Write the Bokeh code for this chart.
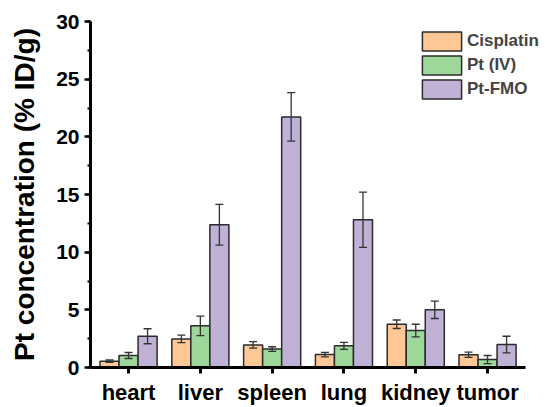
from bokeh.plotting import figure
from bokeh.models import (ColumnDataSource, Whisker, Range1d, FixedTicker,
                          SingleIntervalTicker, Legend, LegendItem, TeeHead)
from bokeh.embed import file_html
from bokeh.resources import INLINE

organs = ["heart", "liver", "spleen", "lung", "kidney", "tumor"]
series = ["Cisplatin", "Pt (IV)", "Pt-FMO"]
cisplatin = [0.55, 2.48, 1.96, 1.12, 3.75, 1.10]
cisplatin_err = [0.10, 0.32, 0.28, 0.20, 0.37, 0.23]
pt_iv = [1.04, 3.61, 1.60, 1.88, 3.20, 0.69]
pt_iv_err = [0.26, 0.84, 0.20, 0.30, 0.55, 0.35]
pt_fmo = [2.71, 12.38, 21.73, 12.81, 5.00, 1.99]
pt_fmo_err = [0.65, 1.77, 2.10, 2.40, 0.75, 0.72]
colors = ["#FDC896", "#9DD89A", "#C0B1D6"]

FONT = "Liberation Sans"
bar_w = 0.265
offsets = [-bar_w, 0.0, bar_w]
x_lo, x_axis_end, x_hi = -0.53, 5.53, 5.807

p = figure(width=545, height=407, output_backend="svg", toolbar_location=None,
           x_range=Range1d(x_lo, x_hi), y_range=Range1d(0, 30),
           min_border_left=90, min_border_right=0, min_border_top=21,
           min_border_bottom=40)
p.outline_line_color = None
p.xgrid.visible = False
p.ygrid.visible = False

items = []
for name, vals, errs, col, off in zip(series, [cisplatin, pt_iv, pt_fmo],
                                       [cisplatin_err, pt_iv_err, pt_fmo_err],
                                       colors, offsets):
    xs = [i + off for i in range(len(organs))]
    src = ColumnDataSource(dict(x=xs, top=vals,
                                upper=[v + e for v, e in zip(vals, errs)],
                                lower=[v - e for v, e in zip(vals, errs)]))
    r = p.vbar(x="x", top="top", width=bar_w, bottom=0, source=src,
               fill_color=col, line_color="#2b2b2b", line_width=1.5)
    w = Whisker(base="x", upper="upper", lower="lower", source=src,
                level="overlay",
                line_color="#333333", line_width=1.3,
                upper_head=TeeHead(size=8, line_color="#333333", line_width=1.3),
                lower_head=TeeHead(size=8, line_color="#333333", line_width=1.3))
    p.add_layout(w)
    items.append(LegendItem(label=name, renderers=[r]))

legend = Legend(items=items, location=(327, 266), orientation="vertical",
                glyph_width=49, glyph_height=24, spacing=-2, padding=0, margin=0,
                label_text_font=FONT, label_text_font_style="bold",
                label_text_font_size="17px", label_standoff=1,
                label_height=20,
                border_line_color=None, background_fill_alpha=0)
p.add_layout(legend)

# x axis
p.xaxis.bounds = (x_lo, x_axis_end)
p.xaxis.ticker = FixedTicker(ticks=list(range(len(organs))))
p.xaxis.major_label_overrides = {i: o for i, o in enumerate(organs)}
p.xaxis.axis_line_width = 3
p.xaxis.axis_line_color = "black"
p.xaxis.major_tick_line_width = 3
p.xaxis.major_tick_out = 6
p.xaxis.major_tick_in = 0
p.xaxis.minor_tick_line_color = None
p.xaxis.major_label_text_font = FONT
p.xaxis.major_label_text_font_style = "bold"
p.xaxis.major_label_text_font_size = "22px"
p.xaxis.major_label_text_color = "black"
p.xaxis.major_label_standoff = 6

# y axis
p.yaxis.ticker = SingleIntervalTicker(interval=5, num_minor_ticks=2)
p.yaxis.axis_line_width = 3
p.yaxis.axis_line_color = "black"
p.yaxis.major_tick_line_width = 2.5
p.yaxis.major_tick_out = 6
p.yaxis.major_tick_in = 0
p.yaxis.minor_tick_line_width = 2
p.yaxis.minor_tick_out = 3
p.yaxis.minor_tick_in = 0
p.yaxis.major_label_text_font = FONT
p.yaxis.major_label_text_font_style = "bold"
p.yaxis.major_label_text_font_size = "21px"
p.yaxis.major_label_text_color = "black"
p.yaxis.major_label_standoff = 5
p.yaxis.axis_label = "Pt concentration (% ID/g)"
p.yaxis.axis_label_text_font = FONT
p.yaxis.axis_label_text_font_style = "bold"
p.yaxis.axis_label_text_font_size = "28px"
p.yaxis.axis_label_text_color = "black"
p.yaxis.axis_label_standoff = 13

open("out.html", "w").write(file_html(p, INLINE))
